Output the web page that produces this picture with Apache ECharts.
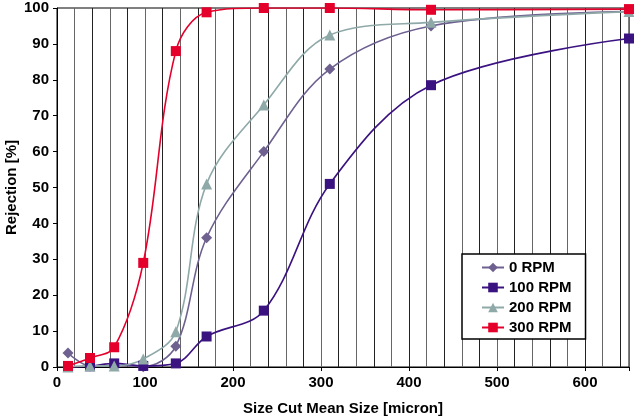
<!DOCTYPE html>
<html><head><meta charset="utf-8">
<script src="https://cdn.jsdelivr.net/npm/echarts@6/dist/echarts.min.js"></script>
<style>html,body{margin:0;padding:0;background:#fff}#c{width:634px;height:419px}</style>
</head><body><div id="c"></div>
<script>
const sizes = [12.5, 37.5, 65, 98, 135, 170, 235, 310, 425, 650];
const rpm0 = [3.9, 0.3, 0.5, 0.1, 5.8, 36, 60, 83, 95, 99];
const rpm100 = [0, 0.2, 1, 0.3, 1, 8.5, 15.7, 51, 78.5, 91.5];
const rpm200 = [0, 0.3, 0.3, 2.2, 9.8, 51, 73, 92.5, 96, 99];
const rpm300 = [0.3, 2.5, 5.5, 29, 88, 98.8, 100, 100, 99.5, 99.7];
const names = ['0 RPM', '100 RPM', '200 RPM', '300 RPM'];
const yTicks = [0, 10, 20, 30, 40, 50, 60, 70, 80, 90, 100];
const xTicks = [0, 100, 200, 300, 400, 500, 600];

const font = 'Liberation Sans, Arial, sans-serif';
function pts(v){ return sizes.map((x,i)=>[x, v[i]]); }
function ser(name, data, color, symbol, size){
  return {name, type:'line', data:pts(data), smooth:0.35, symbol, symbolSize:size,
    xAxisIndex:0, lineStyle:{color, width:1.6}, itemStyle:{color}, z:3};
}
const chart = echarts.init(document.getElementById('c'));
chart.setOption({
  animation:false,
  grid:{left:57, right:5, top:8, bottom:52, show:true, borderColor:'#000', borderWidth:1,
    containLabel:false, outerBoundsMode:'none'},
  xAxis:[{
    type:'value', min:0, max:650, interval:100,
    axisLine:{lineStyle:{color:'#000', width:1}},
    axisTick:{show:true, length:4, lineStyle:{color:'#000'}},
    axisLabel:{color:'#000', fontFamily:font, fontWeight:'bold', fontSize:15, margin:8,
      formatter:v=> xTicks.includes(v) ? String(v) : ''},
    splitLine:{show:false},
    name:'Size Cut Mean Size [micron]', nameLocation:'middle', nameGap:34, nameMoveOverlap:false,
    nameTextStyle:{color:'#000', fontFamily:font, fontWeight:'bold', fontSize:15}
  },{
    type:'value', min:0, max:650, interval:20, position:'top',
    axisLine:{show:false}, axisTick:{show:false}, axisLabel:{show:false},
    splitLine:{show:true, lineStyle:{color:['#222','#666'], width:1}}
  }],
  yAxis:{
    type:'value', min:0, max:100, interval:10,
    axisLine:{show:true, lineStyle:{color:'#000', width:1}},
    axisTick:{show:true, length:4, lineStyle:{color:'#000'}},
    axisLabel:{color:'#000', fontFamily:font, fontWeight:'bold', fontSize:15, margin:8,
      formatter:v=> yTicks.includes(v) ? String(v) : ''},
    splitLine:{show:false},
    name:'Rejection [%]', nameLocation:'middle', nameGap:38, nameRotate:90, nameMoveOverlap:false,
    nameTextStyle:{color:'#000', fontFamily:font, fontWeight:'bold', fontSize:15}
  },
  legend:{
    data:names, orient:'vertical', left:462, top:254,
    backgroundColor:'#fff', borderColor:'#000', borderWidth:1.5,
    padding:[6,14,4,19], itemGap:5, itemWidth:22, itemHeight:12,
    textStyle:{color:'#000', fontFamily:font, fontWeight:'bold', fontSize:15}
  },
  series:[
    ser(names[0], rpm0, '#6e6190', 'diamond', 11),
    ser(names[1], rpm100, '#3b1380', 'rect', 10),
    ser(names[2], rpm200, '#8fa9a8', 'triangle', 11),
    ser(names[3], rpm300, '#e4002b', 'rect', 10)
  ]
});
</script></body></html>
